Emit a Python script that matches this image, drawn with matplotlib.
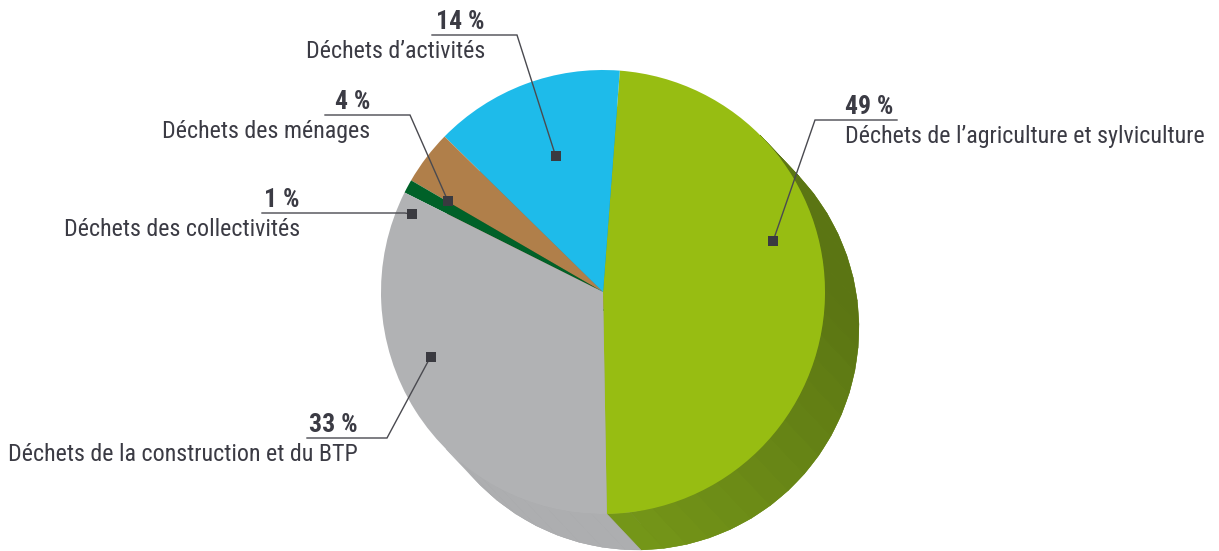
import numpy as np
import matplotlib
matplotlib.use("Agg")
import matplotlib.pyplot as plt
from matplotlib.patches import Polygon

# ---------------- data ----------------
categories = ["Déchets de l\u2019agriculture et sylviculture",
              "Déchets d\u2019activités",
              "Déchets des ménages",
              "Déchets des collectivités",
              "Déchets de la construction et du BTP"]
shares = [49, 14, 4, 1, 33]
top_colors = ["#97bd12", "#1ebbea", "#b07f4a", "#006128", "#b1b2b4"]
side_colors = ["#6f8f17", "#1596bd", "#8a6238", "#004a1e", "#a3a4a6"]

W, H = 1219, 551
def Y(y):
    return H - y

# pie geometry (pixels)
cx, cy, R = 603, Y(292), 222
depth = np.array([34.0, -36.0])

plt.rcParams["font.family"] = ["Roboto Condensed", "DejaVu Sans"]

fig = plt.figure(figsize=(W / 100, H / 100), dpi=100)
ax = fig.add_axes([0, 0, 1, 1])

# bottom face of the extrusion
ax.pie(shares, colors=side_colors, startangle=-89, counterclock=True,
       center=(cx + depth[0], cy + depth[1]), radius=R, normalize=True,
       wedgeprops=dict(linewidth=0))

# side wall, shaded with the angle
def shade(base, ang):
    # darker towards the right, lighter at the bottom
    k = 0.82 + 0.24 * np.clip((-ang) / 90.0, 0, 1)
    rgb = np.array(matplotlib.colors.to_rgb(base)) * k
    return np.clip(rgb, 0, 1)

wedges_tmp, _ = ax.pie(shares, startangle=-89, radius=R, center=(cx, cy),
                       normalize=True, colors=["none"] * 5)
for w in wedges_tmp:
    w.remove()
for i, w in enumerate(wedges_tmp):
    t1, t2 = w.theta1, w.theta2
    # only the visible part of the wall
    lo, hi = -135.0, 45.0
    for off in (0, -360):
        a1, a2 = max(t1 + off, lo), min(t2 + off, hi)
        if a2 <= a1:
            continue
        steps = np.arange(a1, a2, 6.0).tolist() + [a2]
        for s1, s2 in zip(steps[:-1], steps[1:]):
            p1 = np.array([cx + R * np.cos(np.radians(s1)), cy + R * np.sin(np.radians(s1))])
            p2 = np.array([cx + R * np.cos(np.radians(s2)), cy + R * np.sin(np.radians(s2))])
            c = shade(side_colors[i], 0.5 * (s1 + s2))
            ax.add_patch(Polygon([p1, p2, p2 + depth, p1 + depth], closed=True,
                                 facecolor=c, edgecolor=c, linewidth=0.3, zorder=1))

# top face
wedges, _ = ax.pie(shares, colors=top_colors, startangle=-89, counterclock=True,
                   center=(cx, cy), radius=R, normalize=True,
                   wedgeprops=dict(linewidth=0))
for w in wedges:
    w.set_zorder(2)

# ---------------- labels ----------------
txt_col = "#3b3b44"
line_col = "#4a4a50"
fs = 17.3

# (marker angle, marker radius fraction, underline x0, x1, underline y, text x, ha)
layout = [
    (16.7, 0.80, 897, 815, 120, 845, "left"),
    (109.2, 0.65, 432, 517, 35, 485, "right"),
    (149.6, 0.81, 325, 410, 115, 370, "right"),
    (157.9, 0.93, 262, 405, 213, 300, "right"),
    (200.6, 0.83, 307, 387, 438, 358, "right"),
]

for i, (ang, rf, ux0, ux1, uy, tx, ha) in enumerate(layout):
    mx = cx + rf * R * np.cos(np.radians(ang))
    my = cy + rf * R * np.sin(np.radians(ang))
    ax.plot([ux0, ux1, mx], [Y(uy), Y(uy), my], color=line_col, lw=1.0,
            zorder=5, solid_joinstyle="miter")
    ax.plot(mx, my, marker="s", ms=6.5, color="#3a3a40", zorder=6, mew=0)
    ax.text(tx, Y(uy) + 6, f"{shares[i]} %", ha=ha, va="baseline", fontsize=18.5,
            fontweight="bold", color=txt_col, zorder=7)
    ax.text(tx, Y(uy) - 5, categories[i], ha=ha, va="top", fontsize=fs,
            color=txt_col, zorder=7)

ax.set_xlim(0, W)
ax.set_ylim(0, H)
ax.set_aspect("equal")
ax.axis("off")

fig.savefig("out.png", dpi=100, facecolor="white")
